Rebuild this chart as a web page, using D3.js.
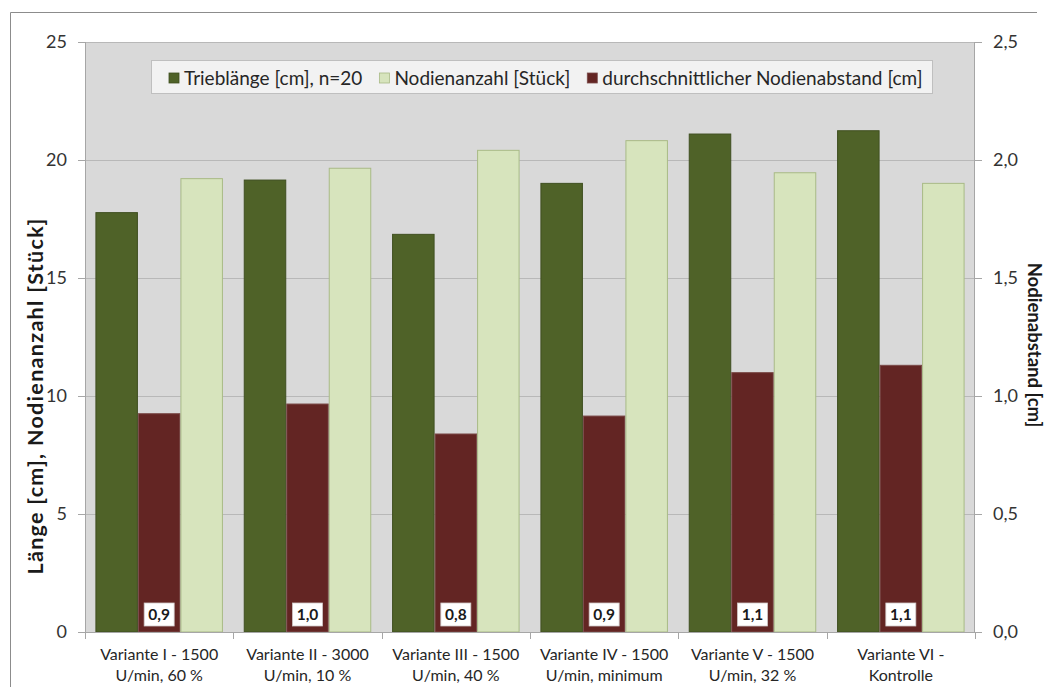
<!DOCTYPE html>
<html><head><meta charset="utf-8">
<script src="https://cdn.jsdelivr.net/npm/d3@7"></script>
<style>body{margin:0;background:#fff;} svg{display:block;font-family:Lato, "Open Sans", sans-serif;}</style>
</head><body><svg id="chart" width="1047" height="687"></svg>
<script>
// ---- data ----
const categories = [
  ["Variante I - 1500", "U/min, 60 %"],
  ["Variante II - 3000", "U/min, 10 %"],
  ["Variante III - 1500", "U/min, 40 %"],
  ["Variante IV - 1500", "U/min, minimum"],
  ["Variante V - 1500", "U/min, 32 %"],
  ["Variante VI -", "Kontrolle"]
];
const triebLaenge  = [17.77, 19.15, 16.85, 19.01, 21.10, 21.24];
const nodienAnzahl = [19.21, 19.65, 20.41, 20.82, 19.46, 19.01];
const nodienAbstand = [0.925, 0.966, 0.839, 0.915, 1.099, 1.130];
const legendLabels = ["Trieblänge [cm], n=20", "Nodienanzahl [Stück]", "durchschnittlicher Nodienabstand [cm]"];
const leftTicks = [0, 5, 10, 15, 20, 25];
const rightTicks = [0, 0.5, 1.0, 1.5, 2.0, 2.5];
const leftTitle = "Länge [cm], Nodienanzahl [Stück]";
const rightTitle = "Nodienabstand [cm]";

// ---- layout ----
const colors = {trieb:"#4f6228", anzahl:"#d7e4bd", abstand:"#632523"};
const strokes = {trieb:"#3f4f20", anzahl:"#a9ba86", abstand:"#7a4a48"};
const m = {left:85, right:975, top:42, bottom:632};
const de = d3.formatLocale({decimal:",", thousands:".", grouping:[3], currency:["","€"]});
const f1 = de.format(".1f");

const svg = d3.select("#chart");
// outer border
svg.append("path").attr("d","M10.5,687 L10.5,12.5 L1037,12.5").attr("fill","none").attr("stroke","#8c8c8c").attr("stroke-width",1);

const x0 = d3.scaleBand().domain(d3.range(categories.length)).range([m.left, m.right]).padding(0);
const barKeys = ["trieb","abstand","anzahl"];
const x1 = d3.scaleBand().domain(barKeys).range([0, x0.bandwidth()]).paddingInner(0).paddingOuter(0.245);
const yL = d3.scaleLinear().domain([0,25]).range([m.bottom, m.top]);
const yR = d3.scaleLinear().domain([0,2.5]).range([m.bottom, m.top]);

// plot background
svg.append("rect").attr("x",m.left).attr("y",m.top).attr("width",m.right-m.left).attr("height",m.bottom-m.top).attr("fill","#d9d9d9");
// gridlines
svg.append("g").selectAll("line").data(leftTicks.filter(d=>d>0)).join("line")
  .attr("x1",m.left).attr("x2",m.right).attr("y1",d=>Math.round(yL(d))+0.5).attr("y2",d=>Math.round(yL(d))+0.5)
  .attr("stroke","#b8b8b8").attr("stroke-width",1.2);

// bars
const rows = categories.map((c,i)=>({i, trieb:triebLaenge[i], anzahl:nodienAnzahl[i], abstand:nodienAbstand[i]}));
const groups = svg.append("g").selectAll("g").data(rows).join("g").attr("transform",d=>`translate(${x0(d.i)},0)`);
groups.selectAll("rect").data(d=>barKeys.map(k=>({k, v:d[k]}))).join("rect")
  .attr("x",d=>x1(d.k)+0.5).attr("width",x1.bandwidth()-1)
  .attr("y",d=>(d.k==="abstand"?yR(d.v):yL(d.v)))
  .attr("height",d=>m.bottom-(d.k==="abstand"?yR(d.v):yL(d.v)))
  .attr("fill",d=>colors[d.k]).attr("stroke",d=>strokes[d.k]).attr("stroke-width",1);

// data labels on red bars
const lab = svg.append("g").selectAll("g").data(rows).join("g")
  .attr("transform",d=>`translate(${x0(d.i)+x1("abstand")+x1.bandwidth()/2},614.5)`);
lab.append("rect").attr("x",-15).attr("y",-11.5).attr("width",30).attr("height",23).attr("fill","#fff").attr("stroke","#d0c8c8").attr("stroke-width",0.8);
lab.append("text").attr("text-anchor","middle").attr("dy","0.36em").attr("font-size",15.5).attr("font-weight","bold").attr("fill","#1a1a1a")
  .text(d=>f1(d.abstand));

// axes
const axisColor = "#a6a6a6";
const gL = svg.append("g").attr("transform",`translate(${m.left},0)`)
  .call(d3.axisLeft(yL).tickValues(leftTicks).tickSize(7).tickPadding(11).tickFormat(d3.format("d")));
const gR = svg.append("g").attr("transform",`translate(${m.right},0)`)
  .call(d3.axisRight(yR).tickValues(rightTicks).tickSize(7).tickPadding(11).tickFormat(f1));
[gL,gR].forEach(g=>{
  g.select(".domain").attr("stroke",axisColor).attr("d", g===gL ? `M0.5,${m.bottom}V${m.top}` : `M-0.5,${m.bottom}V${m.top}`);
  g.selectAll(".tick line").attr("stroke",axisColor);
  g.selectAll(".tick text").attr("font-size",18).attr("fill","#333").attr("font-family","Lato, sans-serif");
});
// bottom axis
svg.append("line").attr("x1",m.left-7).attr("x2",m.right+7).attr("y1",m.bottom+0.5).attr("y2",m.bottom+0.5).attr("stroke",axisColor);
const bounds = d3.range(categories.length).map(i=>x0(i)).concat([m.right]);
svg.append("g").selectAll("line").data(bounds).join("line")
  .attr("x1",d=>Math.round(d)+0.5).attr("x2",d=>Math.round(d)+0.5).attr("y1",m.bottom).attr("y2",m.bottom+7).attr("stroke",axisColor);
const cat = svg.append("g").selectAll("text").data(categories).join("text")
  .attr("text-anchor","middle").attr("font-size",16).attr("fill","#262626");
cat.each(function(d,i){
  const t = d3.select(this);
  d.forEach((line,j)=>t.append("tspan").attr("x",x0(i)+x0.bandwidth()/2).attr("y",660+j*21).text(line));
});

// axis titles
svg.append("text").attr("transform","translate(35,396) rotate(-90)").attr("text-anchor","middle").attr("dy","0.35em")
  .attr("font-size",21.5).attr("letter-spacing",1.3).attr("font-weight","bold").attr("fill","#1a1a1a").text(leftTitle);
svg.append("text").attr("transform","translate(1034,345) rotate(90)").attr("text-anchor","middle").attr("dy","0.35em")
  .attr("font-size",18.5).attr("font-weight","bold").attr("fill","#1a1a1a").text(rightTitle);

// legend
const lg = svg.append("g");
lg.append("rect").attr("x",151.5).attr("y",60.5).attr("width",781).attr("height",33).attr("fill","#f2f2f2").attr("stroke","#bfbfbf");
const legKeys = ["trieb","anzahl","abstand"];
let lx = 169;
legKeys.forEach((k,i)=>{
  lg.append("rect").attr("x",lx).attr("y",73).attr("width",10).attr("height",10).attr("fill",colors[k]).attr("stroke",strokes[k]).attr("stroke-width",0.8);
  const t = lg.append("text").attr("x",lx+15).attr("y",78).attr("dy","0.35em").attr("font-size",19).attr("fill","#262626").text(legendLabels[i]);
  lx += 15 + t.node().getComputedTextLength() + 17;
});
</script></body></html>
